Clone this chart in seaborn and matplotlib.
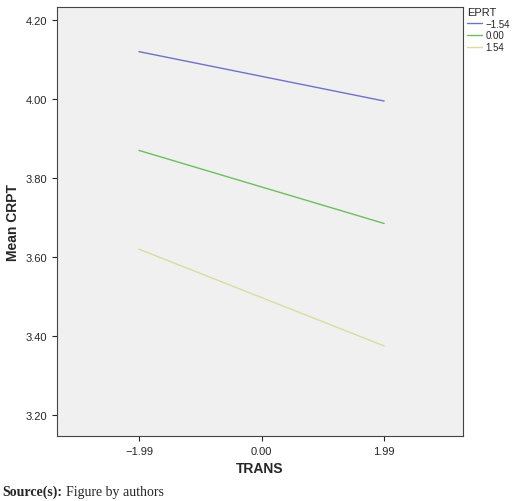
import matplotlib
matplotlib.use("Agg")
import matplotlib.pyplot as plt
import seaborn as sns
import pandas as pd

trans = [-1.99, 1.99]
eprt_levels = ["\u22121.54", "0.00", "1.54"]
means = {"\u22121.54": [4.12, 3.995], "0.00": [3.87, 3.685], "1.54": [3.62, 3.375]}
colors = ["#6d74c2", "#6cbf5c", "#d9dc9e"]

rows = []
for lvl in eprt_levels:
    for t, m in zip(trans, means[lvl]):
        rows.append({"TRANS": t, "CRPT": m, "EPRT": lvl})
df = pd.DataFrame(rows)

sns.set_style("ticks")
plt.rcParams['font.family'] = ['Liberation Sans', 'DejaVu Sans']
fig = plt.figure(figsize=(5.2, 5.02), dpi=100)
ax = fig.add_axes([57/520, 1-437/502, 406/520, 429/502])
ax.set_facecolor("#f0f0f0")
sns.lineplot(data=df, x="TRANS", y="CRPT", hue="EPRT", palette=colors, ax=ax, linewidth=1)
ax.set_xlim(-3.32, 3.27)
ax.set_ylim(3.147, 4.233)
ax.set_xticks([-1.99, 0, 1.99])
ax.set_xticklabels(["\u22121.99", "0.00", "1.99"], fontsize=8)
ax.set_yticks([3.2, 3.4, 3.6, 3.8, 4.0, 4.2])
ax.set_yticklabels(["3.20", "3.40", "3.60", "3.80", "4.00", "4.20"], fontsize=8)
ax.set_xlabel("TRANS", fontsize=10, fontweight="bold")
ax.set_ylabel("Mean CRPT", fontsize=10, fontweight="bold")
for s in ax.spines.values():
    s.set_color("#444444"); s.set_linewidth(0.8)
leg = ax.legend(title="EPRT", loc="upper left", bbox_to_anchor=(1.0, 1.01), frameon=False,
                fontsize=7, title_fontsize=8, handlelength=1.6, handletextpad=0.3,
                labelspacing=0.2, borderaxespad=0.2, borderpad=0.2)
leg._legend_box.align = "left"
fig.text(0.004, 0.012, "Source(s):", fontsize=10, fontweight="bold", family="Liberation Serif")
fig.text(0.127, 0.012, "Figure by authors", fontsize=10, family="Liberation Serif")
fig.savefig("out.png", dpi=100)
